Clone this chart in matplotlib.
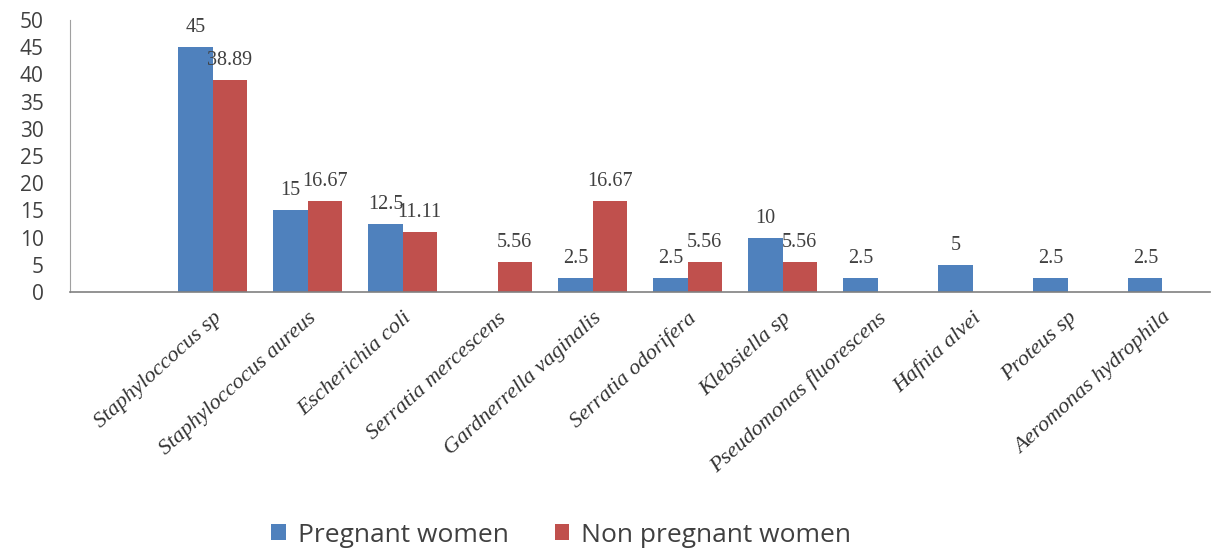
import numpy as np
import matplotlib.pyplot as plt

# data (first category slot is blank in the original)
categories = ['', 'Staphyloccocus sp', 'Staphyloccocus aureus', 'Escherichia coli',
              'Serratia mercescens', 'Gardnerrella vaginalis', 'Serratia odorifera',
              'Klebsiella sp', 'Pseudomonas fluorescens', 'Hafnia alvei',
              'Proteus sp', 'Aeromonas hydrophila']
pregnant = [np.nan, 45, 15, 12.5, np.nan, 2.5, 2.5, 10, 2.5, 5, 2.5, 2.5]
non_pregnant = [np.nan, 38.89, 16.67, 11.11, 5.56, 16.67, 5.56, 5.56,
                np.nan, np.nan, np.nan, np.nan]
series_names = ['Pregnant women', 'Non pregnant women']

blue = '#4F81BD'
red = '#C0504D'

fig = plt.figure(figsize=(12.2, 5.52), dpi=100)
ax = fig.add_axes([0.0574, 0.471, 0.9344, 0.493])

x = np.arange(len(categories))
w = 0.36
b1 = ax.bar(x - w/2, pregnant, w, color=blue, label=series_names[0])
b2 = ax.bar(x + w/2, non_pregnant, w, color=red, label=series_names[1])

def label_bars(bars, vals):
	for rect, v in zip(bars, vals):
		if np.isnan(v):
			continue
		ax.annotate(f'{v:g}', (rect.get_x() + rect.get_width()/2, v),
		            xytext=(0, 14), textcoords='offset points',
		            ha='center', va='center', fontsize=14.5,
		            family='Liberation Serif', color='#404040')

label_bars(b1, pregnant)
label_bars(b2, non_pregnant)

ax.set_xlim(-0.5, len(categories) - 0.5)
ax.set_ylim(0, 50)
ax.set_yticks(np.arange(0, 51, 5))
ax.tick_params(axis='y', length=0, labelsize=15, labelcolor='#404040', pad=19)
for lab in ax.get_yticklabels():
	lab.set_family('Open Sans')

ax.set_xticks(x)
ax.set_xticklabels(categories, rotation=42, ha='right', rotation_mode='anchor',
                   fontsize=16, family='Liberation Serif', style='italic',
                   color='#333333')
ax.tick_params(axis='x', length=0, pad=12)

for s in ['top', 'right']:
	ax.spines[s].set_visible(False)
ax.spines['left'].set_color('#A0A0A0')
ax.spines['bottom'].set_color('#808080')
ax.spines['bottom'].set_linewidth(1.2)

fig.legend(handles=[b1, b2], loc='lower center', bbox_to_anchor=(0.46, -0.035),
           ncol=2, frameon=False, handlelength=0.55, handleheight=0.55,
           handletextpad=0.45, columnspacing=1.75,
           prop={'family': 'Open Sans', 'size': 19})
for t in fig.legends[0].get_texts():
	t.set_color('#404040')

fig.savefig('out.png', dpi=100)
